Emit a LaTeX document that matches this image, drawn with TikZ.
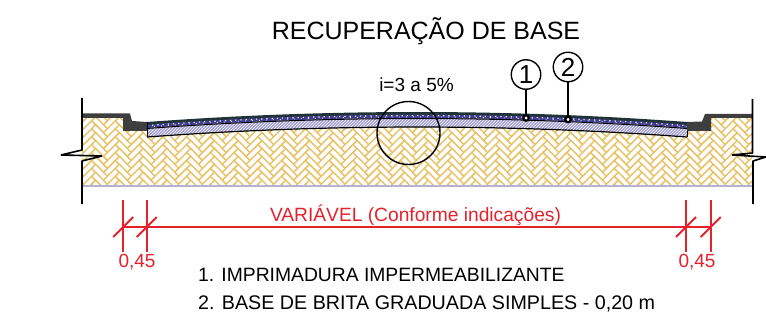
\documentclass[tikz,border=0pt]{standalone}
\usepackage{fontspec}
\setmainfont{Liberation Sans}
\usetikzlibrary{patterns, positioning}

\definecolor{gold}{HTML}{E9C264}
\definecolor{dimred}{HTML}{E4222B}
\definecolor{binder}{HTML}{3F3D8E}
\definecolor{gravel}{HTML}{A09ED4}
\definecolor{coat}{HTML}{1F3336}
\definecolor{kerb}{HTML}{3E3E3E}
\definecolor{baseline}{HTML}{B4B4D2}

\tikzset{
  brick/.style={draw=gold, line width=1.3pt, fill=white},
  wall/.style={draw=black, line width=1.6pt, line join=bevel},
  leader/.style={draw=black, line width=1.4pt},
  balloon/.style={circle, draw=black, line width=1.4pt, minimum size=29.5pt, inner sep=0pt, font=\fontsize{26}{26}\selectfont},
  tipdot/.style={circle, draw=black, fill=white, line width=2.2pt, minimum size=5.5pt, inner sep=0pt},
  dimline/.style={draw=dimred, line width=1.9pt},
  dimtext/.style={text=dimred, inner sep=0pt},
  caption/.style={anchor=west, inner sep=0pt, font=\fontsize{19.3}{22}\selectfont}
}

% road crown, shifted down by #1
\newcommand{\crowndown}[1]{(147,122+#1) .. controls (327,108.7+#1) and (507,108.7+#1) .. (687,122+#1)}
\newcommand{\crownback}[1]{(687,122+#1) .. controls (507,108.7+#1) and (327,108.7+#1) .. (147,122+#1)}

\begin{document}
\begin{tikzpicture}[x=1pt, y=-1pt]
  \useasboundingbox (0,0) rectangle (766,334);

  % subgrade
  \begin{scope}
    \clip (82,118) -- (123,118) -- (123,130) -- (147,130) -- (147,124) -- (687,124) -- (687,130) -- (711,130) -- (711,118) -- (752,118) -- (752,186) -- (82,186) -- cycle;
    \fill[white] (82,118) rectangle (752,186);
    \foreach \col in {0,...,31} {
      \foreach \row in {0,...,13} {
        \begin{scope}[shift={(60+\col*23.76,105+\row*7.92)}, rotate=45, x=5.6pt, y=5.6pt]
          \draw[brick] (0,0) rectangle (3,1);
          \draw[brick] (3,-2) rectangle (4,1);
        \end{scope}
      }
    }
  \end{scope}
  \draw[draw=baseline, line width=2pt] (82,186) -- (752,186);

  % base and surfacing
  \fill[gravel] \crowndown{6} -- \crownback{15} -- cycle;
  \fill[pattern=north east lines, pattern color=white] \crowndown{6} -- \crownback{15} -- cycle;
  \fill[binder] \crowndown{2} -- \crownback{6} -- cycle;
  \draw[white, line width=1.2pt, dash pattern=on 1.2pt off 4pt] \crowndown{3.6};
  \draw[white!85!binder, line width=.9pt, dash pattern=on 1pt off 6pt] \crowndown{4.9};
  \fill[coat] \crowndown{0} -- \crownback{2.6} -- cycle;
  \draw[black, line width=1pt] \crowndown{6.5};
  \draw[black, line width=1.2pt] \crowndown{15};
  \draw[black, line width=1pt] (147,122) -- (147,137);
  \draw[black, line width=1pt] (687,122) -- (687,137);

  % kerbs and pavements
  \fill[kerb] (82,113.5) -- (130,113.5) -- (132,121) -- (147,122) -- (147,131) -- (123,131) -- (123,118) -- (82,118) -- cycle;
  \fill[kerb] (752,114) -- (705,114) -- (702,121.5) -- (687,122) -- (687,131) -- (711,131) -- (711,118) -- (752,118) -- cycle;

  % walls with break marks
  \draw[wall] (82,98) -- (82,150) -- (61,155) -- (102,156) -- (82,161) -- (82,204);
  \draw[wall] (752.5,99) -- (752.5,153) -- (732,155) -- (766,157) -- (753,161) -- (753,204);

  % slope circle
  \node[circle, draw=black, line width=1.4pt, minimum size=63pt, inner sep=0pt] (detail) at (408.5,133) {};

  % balloons
  \node[balloon] (one) at (526,74.5) {1};
  \node[balloon] (two) at (568,67) {2};
  \node[tipdot] (tipone) at (526,118) {};
  \node[tipdot] (tiptwo) at (568,119.5) {};
  \draw[leader] (one) -- (tipone);
  \draw[leader] (two) -- (tiptwo);

  % dimensions
  \foreach \name/\xpos in {a/123.2, b/146.7, c/686, d/710.7} {
    \coordinate (\name top) at (\xpos,199.5);
    \coordinate (\name mid) at (\xpos,227);
    \coordinate (\name end) at (\xpos,251.5);
    \draw[dimline] (\name top) -- (\name end);
    \draw[dimline] ([shift={(-10,10)}]\name mid) -- ([shift={(10,-10)}]\name mid);
  }
  \draw[dimline] (amid) -- (dmid);

  % texts
  \node[inner sep=0pt, font=\fontsize{25}{28}\selectfont] (title) at (426,31) {RECUPERAÇÃO DE BASE};
  \node[inner sep=0pt, font=\fontsize{19}{22}\selectfont] (slope) at (416.5,85) {i=3 a 5\%};
  \node[dimtext, font=\fontsize{19.2}{22}\selectfont] (width) at (415.5,215) {VARIÁVEL (Conforme indicações)};
  \node[dimtext, font=\fontsize{19}{22}\selectfont] (leftdim) at (137,262) {0,45};
  \node[dimtext, font=\fontsize{19}{22}\selectfont] (rightdim) at (697,262) {0,45};
  \node[caption] (itemone) at (198,275) {1. IMPRIMADURA IMPERMEABILIZANTE};
  \node[caption, font=\fontsize{19.7}{22}\selectfont] (itemtwo) at (198,304) {2. BASE DE BRITA GRADUADA SIMPLES - 0,20 m};
\end{tikzpicture}
\end{document}
